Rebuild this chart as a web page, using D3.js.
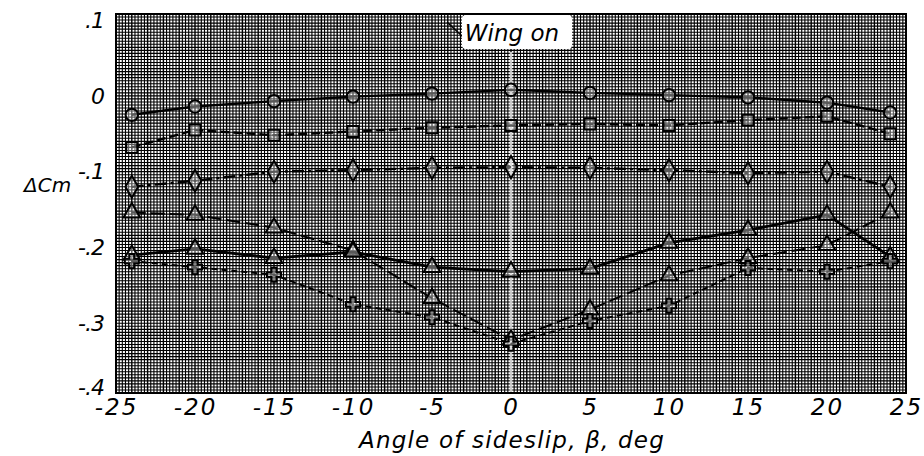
<!DOCTYPE html>
<html>
<head>
<meta charset="utf-8">
<script src="https://cdn.jsdelivr.net/npm/d3@7/dist/d3.min.js"></script>
<style>
  html, body { margin: 0; padding: 0; background: #fff; }
  svg text { font-family: "DejaVu Sans", "Liberation Sans", sans-serif; font-style: italic; fill: #000; }
</style>
</head>
<body>
<svg id="chart" width="924" height="456"></svg>
<script>
// ---- data ----
const beta = [-24, -20, -15, -10, -5, 0, 5, 10, 15, 20, 24];
const circleSeries   = [-0.033, -0.022, -0.015, -0.009, -0.005, 0.000, -0.004, -0.007, -0.010, -0.017, -0.030];
const squareSeries   = [-0.076, -0.053, -0.060, -0.055, -0.050, -0.047, -0.045, -0.047, -0.040, -0.035, -0.058];
const diamondSeries  = [-0.128, -0.120, -0.108, -0.106, -0.103, -0.102, -0.103, -0.106, -0.110, -0.108, -0.128];
const triOpenSeries  = [-0.162, -0.165, -0.182, -0.212, -0.275, -0.330, -0.290, -0.245, -0.222, -0.205, -0.162];
const triSolidSeries = [-0.218, -0.210, -0.222, -0.214, -0.234, -0.240, -0.236, -0.202, -0.185, -0.165, -0.220];
const crossSeries    = [-0.226, -0.234, -0.244, -0.283, -0.300, -0.335, -0.305, -0.285, -0.235, -0.240, -0.226];
const xTicks = [-25, -20, -15, -10, -5, 0, 5, 10, 15, 20, 25];
const xTickLabels = ["-25", "-20", "-15", "-10", "-5", "0", "5", "10", "15", "20", "25"];
const yTicks = [0.1, 0, -0.1, -0.2, -0.3, -0.4];
const yTickLabels = [".1", "0", "-.1", "-.2", "-.3", "-.4"];
const xTitle = "Angle of sideslip, \u03B2, deg";
const yTitle = "\u0394Cm";
const noteText = "Wing on";

// ---- layout ----
const svg = d3.select("#chart");
const W = 924, H = 456;
const m = {left: 116, right: 18, top: 14, bottom: 63};
const x = d3.scaleLinear().domain([-25, 25]).range([m.left, W - m.right]);
const y = d3.scaleLinear().domain([-0.4, 0.1]).range([H - m.bottom, m.top]);

// graph paper background
const gGrid = svg.append("g");
gGrid.append("rect").attr("x", x(-25)).attr("y", y(0.1))
  .attr("width", x(25) - x(-25)).attr("height", y(-0.4) - y(0.1)).attr("fill", "#fff");
gGrid.selectAll("line.vx").data(d3.range(-25, 25.001, 0.2)).join("line")
  .attr("x1", d => x(d)).attr("x2", d => x(d))
  .attr("y1", y(0.1)).attr("y2", y(-0.4))
  .attr("stroke", "#000").attr("stroke-width", (d) => Math.abs(d - Math.round(d)) < 1e-6 ? 1.4 : 1.1);
gGrid.selectAll("line.hy").data(d3.range(-0.4, 0.1001, 0.004)).join("line")
  .attr("y1", d => y(d)).attr("y2", d => y(d))
  .attr("x1", x(-25)).attr("x2", x(25))
  .attr("stroke", "#000").attr("stroke-width", 1.1);

// washed-out line at beta = 0
svg.append("line").attr("x1", x(0)).attr("x2", x(0)).attr("y1", y(0.05)).attr("y2", y(-0.4))
  .attr("stroke", "#fff").attr("stroke-width", 2.5).attr("opacity", 0.75);

// frame
svg.append("rect").attr("x", x(-25)).attr("y", y(0.1))
  .attr("width", x(25) - x(-25)).attr("height", y(-0.4) - y(0.1))
  .attr("fill", "none").attr("stroke", "#000").attr("stroke-width", 2);

// axes (labels drawn via d3 axis)
const xAxis = d3.axisBottom(x).tickValues(xTicks).tickFormat((d, i) => xTickLabels[i]).tickSize(0).tickPadding(6);
const gx = svg.append("g").attr("transform", `translate(0,${y(-0.4)})`).call(xAxis);
gx.select(".domain").remove();
gx.selectAll("text").attr("font-size", 23).attr("letter-spacing", 2)
  .style("font-family", "'DejaVu Sans', sans-serif").style("font-style", "italic").attr("fill", "#000");

const yAxis = d3.axisLeft(y).tickValues(yTicks).tickFormat((d, i) => yTickLabels[i]).tickSize(0).tickPadding(12);
const gy = svg.append("g").attr("transform", `translate(${x(-25)},0)`).call(yAxis);
gy.select(".domain").remove();
gy.selectAll("text").attr("font-size", 22).attr("letter-spacing", -1)
  .attr("dy", (d) => d === -0.4 ? "0.05em" : "0.6em")
  .style("font-family", "'DejaVu Sans', sans-serif").style("font-style", "italic").attr("fill", "#000");

// titles
svg.append("text").attr("x", 512).attr("y", 448).attr("text-anchor", "middle")
  .attr("font-size", 23).attr("letter-spacing", 1.2).text(xTitle);
svg.append("text").attr("x", 24).attr("y", 192).attr("text-anchor", "start")
  .attr("font-size", 20).text(yTitle);

// series
const series = [
  {vals: circleSeries,   sym: d3.symbolCircle,   size: 120, dash: null,       w: 2.4},
  {vals: squareSeries,   sym: d3.symbolSquare,   size: 120, dash: "9,4",      w: 2.4},
  {vals: diamondSeries,  sym: d3.symbolDiamond,  size: 140, dash: "12,4,3,4", w: 2.4},
  {vals: triOpenSeries,  sym: d3.symbolTriangle, size: 120, dash: "14,5",     w: 2},
  {vals: triSolidSeries, sym: d3.symbolTriangle, size: 120, dash: null,       w: 2.8},
  {vals: crossSeries,    sym: d3.symbolCross,    size: 110, dash: "6,4",      w: 2}
];
const lineGen = d3.line().x((d, i) => x(beta[i])).y(d => y(d));
const gS = svg.append("g");
series.forEach(s => {
  gS.append("path").datum(s.vals).attr("d", lineGen)
    .attr("fill", "none").attr("stroke", "#000").attr("stroke-width", s.w)
    .attr("stroke-dasharray", s.dash);
  gS.selectAll(null).data(s.vals).join("path")
    .attr("transform", (d, i) => `translate(${x(beta[i])},${y(d)})`)
    .attr("d", d3.symbol().type(s.sym).size(s.size))
    .attr("fill", "#fff").attr("fill-opacity", 0.35)
    .attr("stroke", "#000").attr("stroke-width", 2);
});

// note box "Wing on"
const gN = svg.append("g");
gN.append("line").attr("x1", 447).attr("y1", 22).attr("x2", 463).attr("y2", 37)
  .attr("stroke", "#000").attr("stroke-width", 1.5);
gN.append("rect").attr("x", 462).attr("y", 15).attr("width", 110).attr("height", 34)
  .attr("rx", 4).attr("fill", "#fff");
gN.append("text").attr("x", 512).attr("y", 41).attr("text-anchor", "middle")
  .attr("font-size", 23).text(noteText);
</script>
</body>
</html>
